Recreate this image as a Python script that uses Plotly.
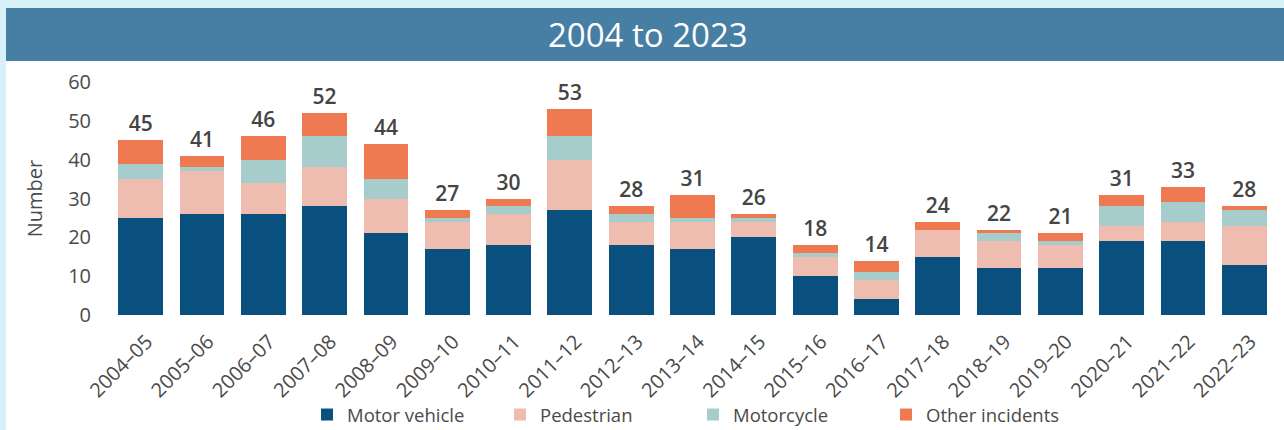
import plotly.graph_objects as go

years = ["2004–05", "2005–06", "2006–07", "2007–08", "2008–09", "2009–10", "2010–11",
         "2011–12", "2012–13", "2013–14", "2014–15", "2015–16", "2016–17", "2017–18",
         "2018–19", "2019–20", "2020–21", "2021–22", "2022–23"]
motor_vehicle = [25, 26, 26, 28, 21, 17, 18, 27, 18, 17, 20, 10, 4, 15, 12, 12, 19, 19, 13]
pedestrian = [10, 11, 8, 10, 9, 7, 8, 13, 6, 7, 4, 5, 5, 7, 7, 6, 4, 5, 10]
motorcycle = [4, 1, 6, 8, 5, 1, 2, 6, 2, 1, 1, 1, 2, 0, 2, 1, 5, 5, 4]
other_incidents = [6, 3, 6, 6, 9, 2, 2, 7, 2, 6, 1, 2, 3, 2, 1, 2, 3, 4, 1]
totals = [45, 41, 46, 52, 44, 27, 30, 53, 28, 31, 26, 18, 14, 24, 22, 21, 31, 33, 28]

FONT = "Open Sans, sans-serif"
TXT = "#4a4a4a"

fig = go.Figure()
series = [
    ("Motor vehicle", motor_vehicle, "#0a507f"),
    ("Pedestrian", pedestrian, "#eebdaf"),
    ("Motorcycle", motorcycle, "#a6cccb"),
    ("Other incidents", other_incidents, "#ef7a52"),
]
for i, (name, vals, col) in enumerate(series):
    kw = {}
    if i == len(series) - 1:
        kw = dict(text=[str(t) for t in totals], textposition="outside",
                  outsidetextfont=dict(family=FONT, size=21, color="#444444", weight=600),
                  cliponaxis=False)
    fig.add_trace(go.Bar(x=years, y=vals, name=name, marker=dict(color=col, line=dict(width=0)),
                         hoverinfo="skip", **kw))

# geometry helpers (plot area: x 110..1275 px, y 315..82 px)
def px(x):
    return (x - 110) / 1165

def py(y):
    return (315 - y) / 233

shapes = [
    dict(type="rect", xref="paper", yref="paper", x0=px(6), x1=px(1290), y0=py(440), y1=py(61),
         fillcolor="white", line=dict(width=0), layer="below"),
    dict(type="rect", xref="paper", yref="paper", x0=px(6), x1=px(1290), y0=py(61), y1=py(8),
         fillcolor="#467ea4", line=dict(width=0), layer="below"),
]

fig.update_layout(
    width=1284, height=430,
    margin=dict(l=110, r=9, t=82, b=115, autoexpand=False),
    paper_bgcolor="#d8f1f9",
    plot_bgcolor="white",
    barmode="stack",
    bargap=0.27,
    font=dict(family=FONT, size=17, color=TXT),
    shapes=shapes,
    showlegend=True,
    legend=dict(orientation="h", xref="container", yref="container",
                x=693 / 1284, xanchor="center", y=(430 - 415) / 430, yanchor="middle",
                font=dict(family=FONT, size=18.5, color=TXT), traceorder="normal",
                entrywidth=148, entrywidthmode="pixels",
                bgcolor="rgba(0,0,0,0)"),
    annotations=[
        dict(text="2004 to 2023", xref="paper", yref="paper", x=px(648), y=py(35),
             xanchor="center", yanchor="middle", showarrow=False,
             font=dict(family=FONT, size=33, color="white")),
    ],
    xaxis=dict(tickangle=-45, showgrid=False, showline=False, zeroline=False, automargin=False,
               tickfont=dict(family=FONT, size=20, color=TXT),
               ticklabelstandoff=10, ticklabelshift=6),
    yaxis=dict(range=[0, 60], dtick=10, showgrid=False, showline=False, zeroline=False,
               automargin=False,
               tickfont=dict(family=FONT, size=20, color=TXT), ticklabelstandoff=18,
               title=dict(text="Number", font=dict(family=FONT, size=20, color=TXT), standoff=20)),
)

fig.write_html("out.html", config={"displayModeBar": False},
               post_script="document.body.style.margin='0';document.body.style.overflow='hidden';")
